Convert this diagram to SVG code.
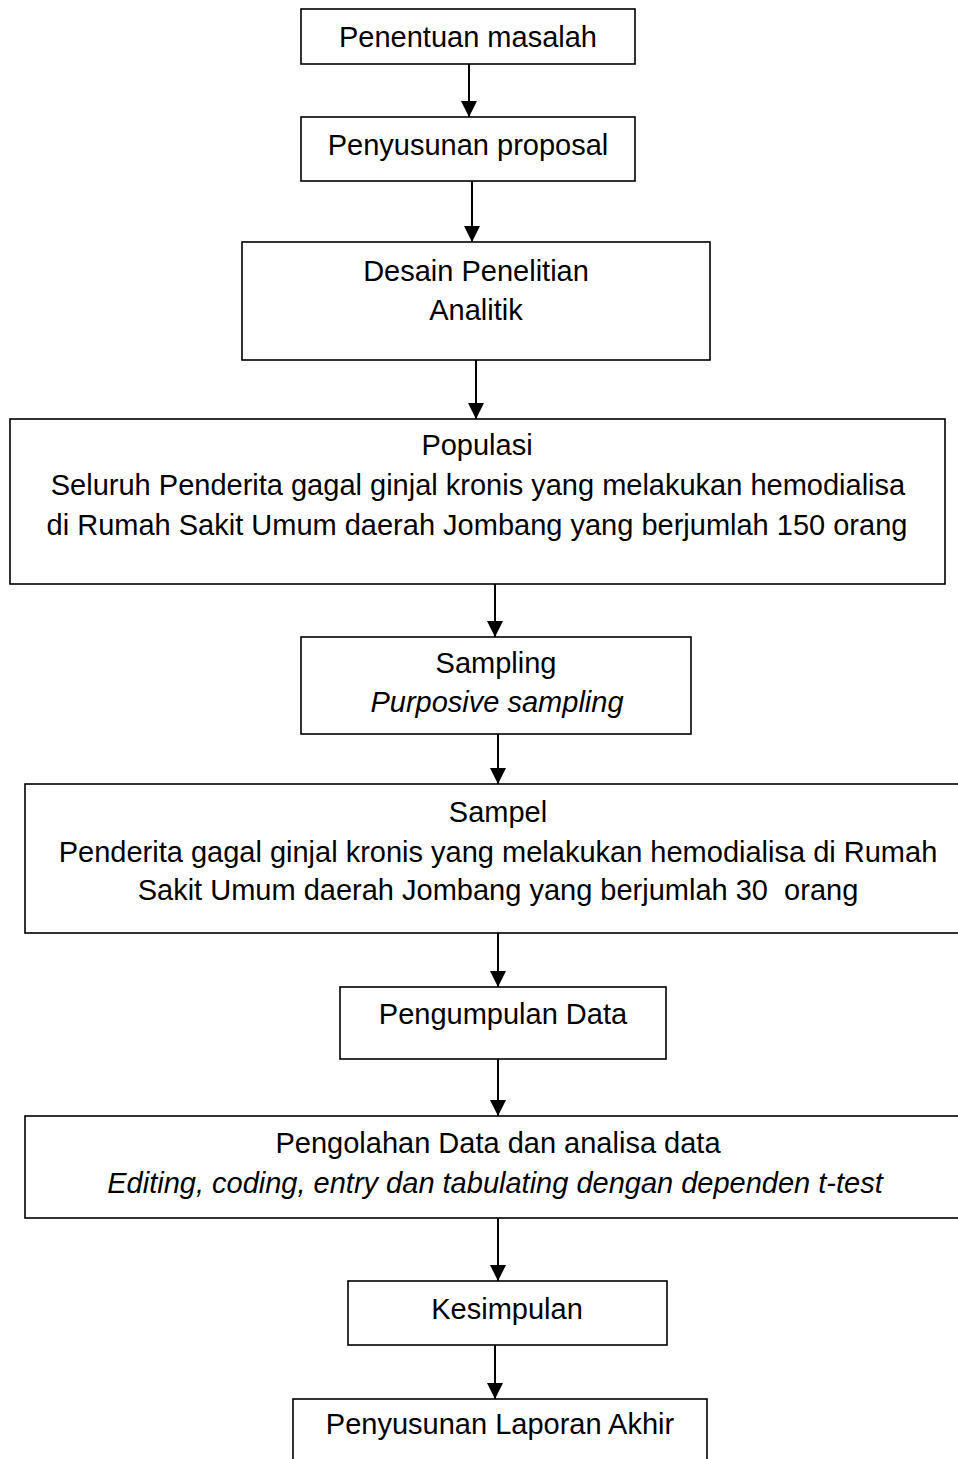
<svg xmlns="http://www.w3.org/2000/svg" width="958" height="1459" viewBox="0 0 958 1459">
<style>
  .box { fill: #fff; stroke: #000; stroke-width: 1.6; }
  .t { font-family: "Liberation Sans", Arial, sans-serif; font-size: 29px; fill: #000; text-anchor: middle; }
  .i { font-style: italic; }
  .conn line { stroke: #000; stroke-width: 2; marker-end: url(#ah); }
</style>
<defs>
  <marker id="ah" markerUnits="userSpaceOnUse" markerWidth="16" markerHeight="17" viewBox="0 0 16 17" refX="16" refY="8.5" orient="auto">
    <path d="M0,0.5 L16,8.5 L0,16.5 z" fill="#000"/>
  </marker>
</defs>
<rect width="958" height="1459" fill="#fff"/>

<g id="n1">
  <rect class="box" x="301" y="9" width="334" height="55"/>
  <text class="t" x="468" y="47">Penentuan masalah</text>
</g>
<g id="n2">
  <rect class="box" x="301" y="117" width="334" height="64"/>
  <text class="t" x="468" y="155">Penyusunan proposal</text>
</g>
<g id="n3">
  <rect class="box" x="242" y="242" width="468" height="118"/>
  <text class="t" x="476" y="281">Desain Penelitian</text>
  <text class="t" x="476" y="320">Analitik</text>
</g>
<g id="n4">
  <rect class="box" x="10" y="419" width="935" height="165"/>
  <text class="t" x="477" y="455">Populasi</text>
  <text class="t" x="478" y="495">Seluruh Penderita gagal ginjal kronis yang melakukan hemodialisa</text>
  <text class="t" x="477" y="535">di Rumah Sakit Umum daerah Jombang yang berjumlah 150 orang</text>
</g>
<g id="n5">
  <rect class="box" x="301" y="637" width="390" height="97"/>
  <text class="t" x="496" y="673">Sampling</text>
  <text class="t i" x="497" y="712">Purposive sampling</text>
</g>
<g id="n6">
  <rect class="box" x="25" y="784" width="950" height="149"/>
  <text class="t" x="498" y="822">Sampel</text>
  <text class="t" x="498" y="862">Penderita gagal ginjal kronis yang melakukan hemodialisa di Rumah</text>
  <text class="t" x="498" y="900" xml:space="preserve">Sakit Umum daerah Jombang yang berjumlah 30  orang</text>
</g>
<g id="n7">
  <rect class="box" x="340" y="987" width="326" height="72"/>
  <text class="t" x="503" y="1024">Pengumpulan Data</text>
</g>
<g id="n8">
  <rect class="box" x="25" y="1116" width="950" height="102"/>
  <text class="t" x="498" y="1153">Pengolahan Data dan analisa data</text>
  <text class="t i" x="495" y="1193">Editing, coding, entry dan tabulating dengan dependen t-test</text>
</g>
<g id="n9">
  <rect class="box" x="348" y="1281" width="319" height="64"/>
  <text class="t" x="507" y="1319">Kesimpulan</text>
</g>
<g id="n10">
  <rect class="box" x="293" y="1399" width="414" height="80"/>
  <text class="t" x="500" y="1434">Penyusunan Laporan Akhir</text>
</g>

<g id="connectors" class="conn">
  <line x1="469" y1="64" x2="469" y2="117"/>
  <line x1="472" y1="181" x2="472" y2="242"/>
  <line x1="476" y1="360" x2="476" y2="419"/>
  <line x1="495" y1="584" x2="495" y2="637"/>
  <line x1="498" y1="734" x2="498" y2="784"/>
  <line x1="498" y1="933" x2="498" y2="987"/>
  <line x1="498" y1="1059" x2="498" y2="1116"/>
  <line x1="498" y1="1218" x2="498" y2="1281"/>
  <line x1="495" y1="1345" x2="495" y2="1399"/>
</g>
</svg>
